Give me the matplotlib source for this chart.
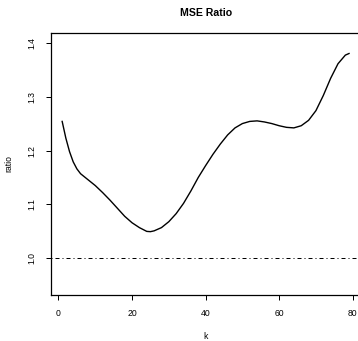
import matplotlib
matplotlib.use("Agg")
import matplotlib.pyplot as plt

# MSE ratio against k
k = [1, 2, 3, 4, 5, 6, 8, 10, 12, 14, 16, 18, 20, 22, 24, 25, 26, 28, 30,
     32, 34, 36, 38, 40, 42, 44, 46, 48, 50, 52, 54, 56, 58, 60, 62, 64,
     66, 68, 70, 72, 74, 76, 78, 79]
ratio = [1.254, 1.223, 1.198, 1.179, 1.166, 1.157, 1.146, 1.135, 1.122,
         1.108, 1.093, 1.078, 1.066, 1.057, 1.050, 1.0495, 1.051, 1.057,
         1.068, 1.083, 1.102, 1.125, 1.150, 1.172, 1.193, 1.212, 1.229,
         1.242, 1.250, 1.254, 1.255, 1.253, 1.250, 1.246, 1.243, 1.242,
         1.246, 1.256, 1.274, 1.302, 1.334, 1.361, 1.377, 1.380]
ref_level = 1.0
xticks = [0, 20, 40, 60, 80]
yticks = [1.0, 1.1, 1.2, 1.3, 1.4]

plt.rcParams["font.family"] = ["Liberation Sans", "DejaVu Sans"]

fig = plt.figure(figsize=(3.58, 3.41), dpi=100)
ax = fig.add_axes([0.1416, 0.1349, 0.8654, 0.7683])

ax.plot(k, ratio, color="black", lw=1.0)
ax.axhline(ref_level, color="black", lw=0.72, dashes=(1, 3, 4, 3))

# R-style 4% padding around the data
ax.set_xlim(-2.12, 82.12)
ax.set_ylim(0.932, 1.418)
ax.set_xticks(xticks)
ax.set_yticks(yticks)
ax.set_xticklabels([str(t) for t in xticks])
ax.set_yticklabels(["%.1f" % t for t in yticks], rotation=90, va="center")
ax.tick_params(direction="out", length=3.6, width=0.72, labelsize=6.2, pad=6.5,
               color="black")
for s in ax.spines.values():
    s.set_linewidth(0.9)

ax.set_xlabel("k", fontsize=6.2)
ax.set_ylabel("ratio", fontsize=6.2)
ax.xaxis.set_label_coords(0.5, -0.14)
ax.yaxis.set_label_coords(-0.121, 0.5)
ax.set_title("MSE Ratio", fontsize=7.6, fontweight="bold", pad=12)

fig.savefig("out.png", dpi=100)
